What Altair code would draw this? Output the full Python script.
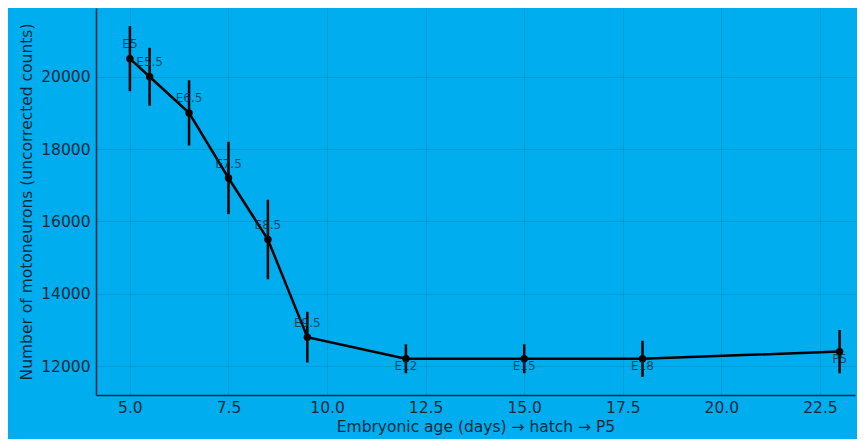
import altair as alt
import pandas as pd

ages = [5, 5.5, 6.5, 7.5, 8.5, 9.5, 12, 15, 18, 23]
labels = ["E5", "E5.5", "E6.5", "E7.5", "E8.5", "E9.5", "E12", "E15", "E18", "P5"]
counts = [20500, 20000, 19000, 17200, 15500, 12800, 12200, 12200, 12200, 12400]
errors = [900, 800, 900, 1000, 1100, 700, 400, 400, 500, 600]
label_y = [20900, 20400, 19400, 17600, 15900, 13200, 12000, 12000, 12000, 12200]

df = pd.DataFrame({
    "age": ages, "label": labels, "count": counts,
    "lo": [c - e for c, e in zip(counts, errors)],
    "hi": [c + e for c, e in zip(counts, errors)],
    "ly": label_y,
})

FONT = "DejaVu Sans"
TXT = "#0b2a3c"

xs = alt.Scale(domain=[4.14, 23.39], nice=False, zero=False)
ys = alt.Scale(domain=[11200, 21900], nice=False, zero=False)

x = alt.X("age:Q", scale=xs, title="Embryonic age (days) → hatch → P5",
          axis=alt.Axis(values=[5, 7.5, 10, 12.5, 15, 17.5, 20, 22.5], format=".1f"))
y = alt.Y("count:Q", scale=ys, title="Number of motoneurons (uncorrected counts)",
          axis=alt.Axis(values=[12000, 14000, 16000, 18000, 20000], format="d"))

base = alt.Chart(df)

err = base.mark_rule(color="black", strokeWidth=2.5).encode(
    x=x, y=alt.Y("lo:Q", scale=ys), y2="hi:Q")
line = base.mark_line(color="black", strokeWidth=2.5).encode(x=x, y=y)
pts = base.mark_point(filled=True, color="black", size=55, opacity=1).encode(x=x, y=y)
txt = base.mark_text(font=FONT, fontSize=12, color=TXT, opacity=0.75).encode(
    x=x, y=alt.Y("ly:Q", scale=ys), text="label:N")

chart = (err + line + pts + txt).properties(
    width=759, height=387,
    background="#00AEEF",
    padding={"left": 88, "top": 0, "right": 2, "bottom": 44},
    autosize=alt.AutoSizeParams(type="none"),
).configure_view(stroke=None).configure_axis(
    labelFont=FONT, titleFont=FONT, labelFontSize=15.5, titleFontSize=15.5,
    labelColor=TXT, titleColor=TXT, titleFontWeight="normal",
    domainColor="#0b2a3c", domainWidth=1.5,
    grid=True, gridColor="#000000", gridOpacity=0.1, gridWidth=1,
    ticks=False,
).configure_axisY(titlePadding=6, labelPadding=6).configure_axisX(titlePadding=4, labelPadding=5)

chart.save("out.html", embed_options={"renderer": "svg", "actions": False})
